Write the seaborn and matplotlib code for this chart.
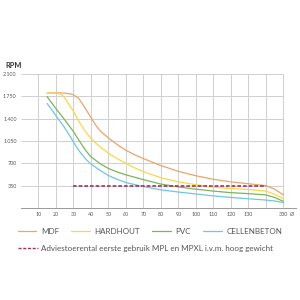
import pandas as pd
import matplotlib
matplotlib.use("Agg")
import matplotlib.pyplot as plt
import seaborn as sns
from matplotlib.lines import Line2D

sns.set_style("white")
plt.rcParams['font.family'] = ['Lato', 'DejaVu Sans']

# x positions on the chart (the last position carries the label "330")
x_ticks = [10, 20, 30, 40, 50, 60, 70, 80, 90, 100, 110, 120, 130, 140, 150]
x_labels = ["10", "20", "30", "40", "50", "60", "70", "80", "90", "100", "110", "120", "130", "", "330"]
y_ticks = [350, 700, 1050, 1400, 1750, 2100]
y_labels = ["350", "700", "1.050", "1.400", "1.750", "2.100"]

mdf_x = [15, 20, 25, 28, 30, 33, 36, 38, 40, 43, 46, 50, 55, 60, 65, 70, 80, 90, 100, 110, 120, 130, 140, 145, 150]
mdf_y = [1800, 1805, 1800, 1790, 1775, 1720, 1600, 1510, 1420, 1290, 1190, 1100, 995, 905, 835, 775, 665, 575, 505, 450, 410, 380, 350, 295, 205]

hardhout_x = [15, 20, 22, 24, 26, 28, 30, 32, 34, 36, 38, 40, 45, 50, 55, 60, 65, 70, 80, 90, 100, 110, 120, 130, 140, 145, 150]
hardhout_y = [1800, 1800, 1790, 1760, 1690, 1600, 1520, 1420, 1320, 1235, 1160, 1090, 965, 860, 775, 700, 630, 570, 475, 410, 365, 325, 305, 290, 265, 215, 145]

pvc_x = [15, 20, 25, 30, 33, 36, 38, 40, 45, 50, 55, 60, 70, 80, 90, 100, 110, 120, 130, 140, 145, 150]
pvc_y = [1745, 1560, 1385, 1200, 1070, 945, 870, 805, 700, 620, 565, 520, 445, 375, 330, 295, 265, 240, 225, 205, 165, 105]

cellenbeton_x = [15, 20, 25, 28, 31, 34, 37, 40, 45, 50, 55, 60, 70, 80, 90, 100, 110, 120, 130, 140, 145, 150]
cellenbeton_y = [1640, 1450, 1260, 1130, 990, 870, 770, 690, 595, 510, 450, 400, 335, 285, 250, 220, 190, 165, 145, 125, 110, 85]

advies_x = [30, 140]
advies_y = [350, 350]

series = {
    "MDF": (mdf_x, mdf_y),
    "HARDHOUT": (hardhout_x, hardhout_y),
    "PVC": (pvc_x, pvc_y),
    "CELLENBETON": (cellenbeton_x, cellenbeton_y),
}
colors = {"MDF": "#eaa46c", "HARDHOUT": "#f6d848", "PVC": "#78b65a", "CELLENBETON": "#6ec6e8"}

df = pd.concat([pd.DataFrame({"d": x, "rpm": y, "materiaal": k}) for k, (x, y) in series.items()])

fig = plt.figure(figsize=(3, 3), dpi=100)
ax = fig.add_axes([0.0693, 0.3067, 0.916, 0.4467])

# grid
grid_c = "#cfcfcf"
ax.hlines(y_ticks, 0, 150, color=grid_c, lw=0.7, zorder=0)
ax.vlines(x_ticks, 0, 2100, color=grid_c, lw=0.7, zorder=0)

sns.lineplot(data=df, x="d", y="rpm", hue="materiaal", palette=colors, lw=0.9, ax=ax, legend=False)
sns.lineplot(x=advies_x, y=advies_y, color="#a8305a", lw=1.2, ax=ax)
ax.lines[-1].set_dashes([2.2, 1.2])

ax.set_xlim(0, 157)
ax.set_ylim(0, 2100)
ax.set_xlabel("")
ax.set_ylabel("")
ax.set_xticks([0] + x_ticks)
ax.set_xticklabels([""] + x_labels)
ax.set_yticks(y_ticks)
ax.set_yticklabels(y_labels)
ax.tick_params(axis="both", labelsize=3.9, colors="#555555", length=0, pad=3)
t0 = ax.xaxis.get_major_ticks()[0]
t0.tick1line.set_markersize(7)
t0.tick1line.set_color("#999999")
t0.tick1line.set_markeredgewidth(0.7)
for s in ["top", "right", "left"]:
    ax.spines[s].set_visible(False)
ax.spines["bottom"].set_color("#999999")
ax.spines["bottom"].set_linewidth(0.7)

ax.text(0.988, -0.045, "Ø", transform=ax.transAxes, fontsize=4, color="#555555",
        ha="center", va="center", family=["DejaVu Sans"])
fig.text(0.017, 0.783, "RPM", fontsize=5.3, fontweight="bold", color="#333333", va="center")

handles = [Line2D([], [], color=colors[k], lw=0.9) for k in series]
fig.legend(handles, list(series), loc="center left", bbox_to_anchor=(0.035, 0.228),
           ncol=4, frameon=False, fontsize=5.8, handlelength=2.3, handletextpad=0.6,
           columnspacing=1.5, labelcolor="#555555")
dash = Line2D([], [], color="#a8305a", lw=1.0, dashes=[2.2, 1.2])
fig.legend([dash], ["Adviestoerental eerste gebruik MPL en MPXL i.v.m. hoog gewicht"],
           loc="center left", bbox_to_anchor=(0.035, 0.173), frameon=False, fontsize=5.8,
           handlelength=2.5, handletextpad=0.4, labelcolor="#555555")

fig.savefig("out.png", dpi=100)
